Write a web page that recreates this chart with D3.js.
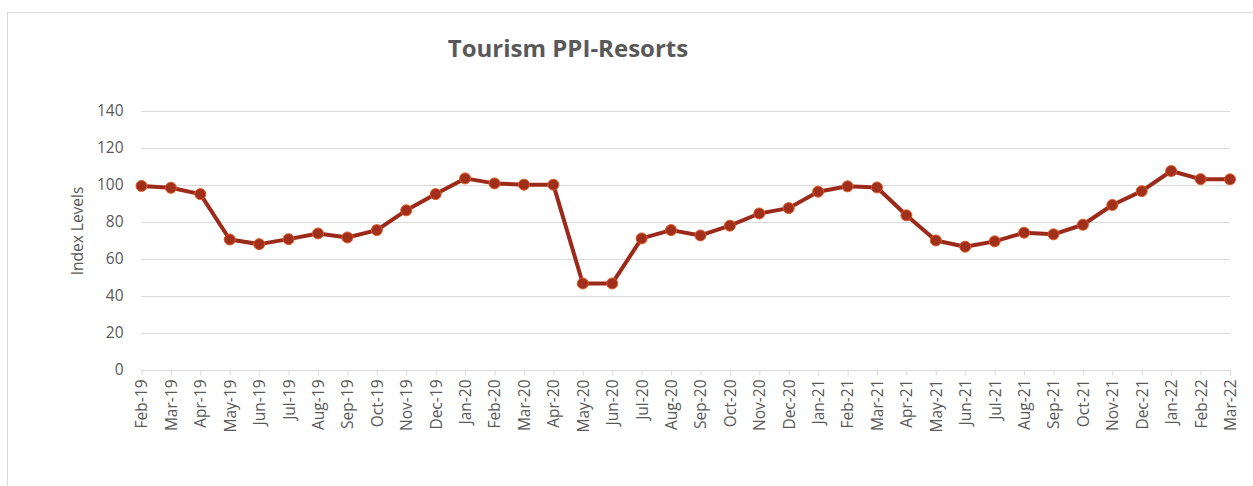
<!DOCTYPE html>
<html>
<head>
<meta charset="utf-8">
<script src="https://cdn.jsdelivr.net/npm/d3@7"></script>
<style>
  html, body { margin: 0; padding: 0; background: #fff; }
  svg { display: block; }
</style>
</head>
<body>
<div id="chart"></div>
<script>
// ──── Data ────
const months = [
    "Feb-19", "Mar-19", "Apr-19", "May-19", "Jun-19", "Jul-19", "Aug-19", "Sep-19",
    "Oct-19", "Nov-19", "Dec-19", "Jan-20", "Feb-20", "Mar-20", "Apr-20", "May-20",
    "Jun-20", "Jul-20", "Aug-20", "Sep-20", "Oct-20", "Nov-20", "Dec-20", "Jan-21",
    "Feb-21", "Mar-21", "Apr-21", "May-21", "Jun-21", "Jul-21", "Aug-21", "Sep-21",
    "Oct-21", "Nov-21", "Dec-21", "Jan-22", "Feb-22", "Mar-22"
];
const indexLevels = [
    99.4, 98.4, 95.0, 70.4, 67.9, 70.6, 73.7, 71.5,
    75.5, 86.2, 95.0, 103.5, 100.8, 100.1, 100.1, 46.6,
    46.6, 71.0, 75.5, 72.6, 77.9, 84.5, 87.4, 96.3,
    99.2, 98.6, 83.5, 69.9, 66.5, 69.4, 74.1, 73.2,
    78.4, 89.1, 96.6, 107.5, 103.1, 103.0
];
const yTicks = [0, 20, 40, 60, 80, 100, 120, 140];

const W = 1253, H = 486;
const margin = { left: 141.5, right: 1230, top: 111, bottom: 369.5 };
const textGray = "#595959";
const font = "Open Sans, Liberation Sans, sans-serif";

const svg = d3.select("#chart")
    .append("svg")
    .attr("width", W)
    .attr("height", H)
    .style("font-family", font);

// chart frame
svg.append("rect")
    .attr("x", 7.5)
    .attr("y", 12.5)
    .attr("width", W)
    .attr("height", H)
    .attr("fill", "#fff")
    .attr("stroke", "#d9d9d9");

// ──── Scales ────
const x = d3.scalePoint()
    .domain(months)
    .range([margin.left, margin.right]);

const y = d3.scaleLinear()
    .domain([0, 140])
    .range([margin.bottom, margin.top]);

// gridlines
svg.append("g")
    .selectAll("line")
    .data(yTicks.slice(1))
    .join("line")
    .attr("x1", margin.left)
    .attr("x2", margin.right)
    .attr("y1", d => Math.round(y(d)) + 0.5)
    .attr("y2", d => Math.round(y(d)) + 0.5)
    .attr("stroke", "#d9d9d9")
    .attr("stroke-width", 1);

// y axis labels
const yAxis = svg.append("g")
    .attr("transform", `translate(${margin.left - 18},0)`)
    .call(d3.axisLeft(y).tickValues(yTicks).tickSize(0).tickPadding(0));
yAxis.select(".domain").remove();
yAxis.selectAll("text")
    .attr("fill", textGray)
    .attr("font-size", 15.5)
    .attr("font-family", font);

// x axis
const xAxis = svg.append("g")
    .attr("transform", `translate(0,${Math.round(y(0)) + 0.5})`)
    .call(d3.axisBottom(x).tickSize(5).tickPadding(4));
xAxis.select(".domain")
    .attr("stroke", "#d9d9d9")
    .attr("d", `M${margin.left},0H${margin.right}`);
xAxis.selectAll(".tick line").attr("stroke", "#d9d9d9");
xAxis.selectAll("text")
    .attr("fill", textGray)
    .attr("font-size", 15.5)
    .attr("font-family", font)
    .attr("text-anchor", "end")
    .attr("transform", "rotate(-90)")
    .attr("x", -9)
    .attr("y", 0)
    .attr("dy", "0.35em");

// y axis title
svg.append("text")
    .attr("transform", `translate(83,231) rotate(-90)`)
    .attr("text-anchor", "middle")
    .attr("fill", textGray)
    .attr("font-size", 15.5)
    .text("Index Levels");

// chart title
svg.append("text")
    .attr("x", 568)
    .attr("y", 57)
    .attr("text-anchor", "middle")
    .attr("fill", textGray)
    .attr("font-size", 24)
    .attr("font-weight", "bold")
    .text("Tourism PPI-Resorts");

// ──── Series ────
const series = months.map((m, i) => ({ m, v: indexLevels[i] }));

svg.append("path")
    .datum(series)
    .attr("fill", "none")
    .attr("stroke", "#9c2a1a")
    .attr("stroke-width", 4)
    .attr("stroke-linejoin", "round")
    .attr("d", d3.line().x(d => x(d.m)).y(d => y(d.v)));

svg.append("g")
    .selectAll("circle")
    .data(series)
    .join("circle")
    .attr("cx", d => x(d.m))
    .attr("cy", d => y(d.v))
    .attr("r", 5.5)
    .attr("fill", "#a0301c")
    .attr("stroke", "#e2571f")
    .attr("stroke-width", 1);
</script>
</body>
</html>
